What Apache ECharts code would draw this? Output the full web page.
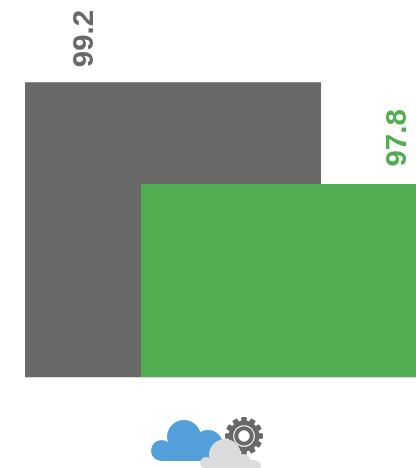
<!DOCTYPE html>
<html><head><meta charset="utf-8">
<style>html,body{margin:0;padding:0;background:#fff;overflow:hidden}#c{width:416px;height:468px}</style>
<script src="https://cdn.jsdelivr.net/npm/echarts@6/dist/echarts.min.js"></script>
</head><body><div id="c"></div>
<script>
var categories = [''];
var seriesNames = ['A', 'B'];
var valuesA = [99.2];
var valuesB = [97.8];
var colorA = '#696969', colorB = '#50ae51';
var blue = '#529fd9', light = '#dcdcdc';

function disc(cx, cy, r, fill) {
  return {type:'circle', shape:{cx:cx, cy:cy, r:r}, style:{fill:fill}, silent:true};
}
function box(x, y, w, h, fill, rr) {
  return {type:'rect', shape:{x:x, y:y, width:w, height:h, r:rr||0}, style:{fill:fill}, silent:true};
}
var gearX = 244, gearY = 436;
var teeth = [];
for (var i = 0; i < 12; i++) {
  teeth.push({type:'rect', shape:{x:gearX-2.8, y:gearY-19, width:5.6, height:8, r:1},
    originX:gearX, originY:gearY, rotation:i*Math.PI/6, style:{fill:colorA}, silent:true});
}
var icons = [].concat(teeth, [
  disc(gearX, gearY, 15.5, colorA),
  disc(gearX, gearY, 10.8, '#fff'),
  disc(gearX, gearY, 9.8, colorA),
  disc(gearX, gearY, 5.7, '#fff'),
  // blue cloud
  disc(161.5, 450.5, 10.5, blue),
  disc(184, 437, 17, blue),
  disc(208, 445, 15, blue),
  box(161, 445, 52, 16, blue),
  // light cloud
  disc(225, 455, 16, light),
  disc(206, 463, 6, light),
  disc(243, 462, 8, light),
  disc(256, 466, 5, light),
  box(206, 460, 50, 10, light)
]);

var chart = echarts.init(document.getElementById('c'), null, {renderer:'canvas'});
function label(color, dx, dy) {
  return {show:true, position:'top', rotate:90, distance:14, offset:[dx, dy], color:color,
    fontFamily:'Liberation Sans', fontWeight:'bold', fontSize:29.5,
    align:'left', verticalAlign:'middle',
    formatter:function(p){return p.value.toFixed(1);}};
}
chart.setOption({
  animation:false,
  backgroundColor:'#fff',
  grid:{left:25, width:412, top:24, height:353, outerBoundsMode:'none'},
  xAxis:{type:'category', data:categories, axisTick:{show:false}, axisLabel:{show:false},
    axisLine:{show:true, lineStyle:{color:'#dddddd', width:1}}},
  yAxis:{type:'value', min:95.15, max:100, show:false, splitLine:{show:false}},
  series:[
    {name:seriesNames[0], type:'bar', data:valuesA, barWidth:296, barGap:'-60.8%',
      itemStyle:{color:colorA}, label:label(colorA, 1, -88)},
    {name:seriesNames[1], type:'bar', data:valuesB, barWidth:296,
      itemStyle:{color:colorB}, label:label(colorB, 3.5, 109)}
  ],
  graphic:{elements:icons}
});
</script></body></html>
